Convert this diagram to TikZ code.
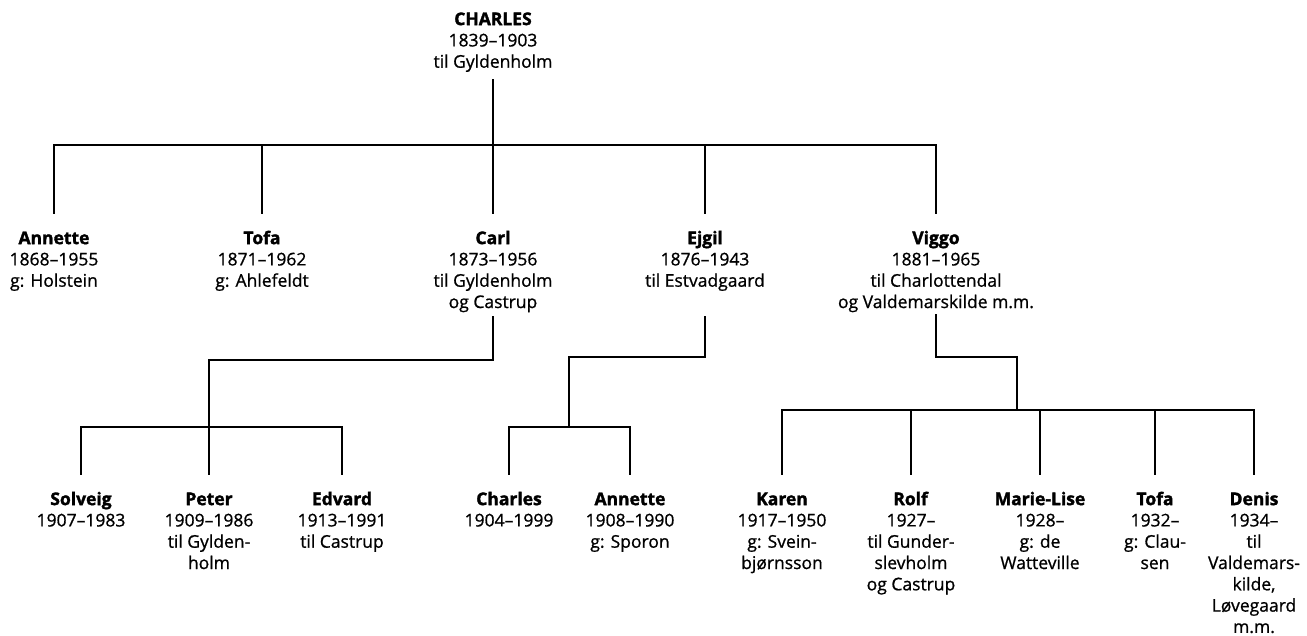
\documentclass[tikz,border=0pt]{standalone}
\usepackage{fontspec}
\setmainfont{Open Sans}[UprightFeatures={FakeBold=0.9}, BoldFeatures={FakeBold=1.8}]
\begin{document}
\begin{tikzpicture}[x=1pt,y=-1pt,
  person/.style={align=center, anchor=north, inner sep=0pt, font=\fontsize{17.5}{21.3}\selectfont},
  link/.style={line width=1.5pt, line cap=rect},
  drop/.style={link, shorten >=16pt}]
\useasboundingbox (0,0) rectangle (1307,635);
% generation 1
\node[person] (charles) at (493,10) {\strut\textbf{CHARLES}\\1839–1903\\til Gyldenholm};
% generation 2
\node[person] (annette) at (54,229) {\strut\textbf{Annette}\\1868–1955\\g: Holstein};
\node[person] (tofa) at (262,229) {\strut\textbf{Tofa}\\1871–1962\\g: Ahlefeldt};
\node[person] (carl) at (493,229) {\strut\textbf{Carl}\\1873–1956\\til Gyldenholm\\og Castrup};
\node[person] (ejgil) at (705,229) {\strut\textbf{Ejgil}\\1876–1943\\til Estvadgaard};
\node[person] (viggo) at (936,229) {\strut\textbf{Viggo}\\1881–1965\\til Charlottendal\\og Valdemarskilde m.m.};
% generation 3
\node[person] (solveig) at (81,490) {\strut\textbf{Solveig}\\1907–1983};
\node[person] (peter) at (209,490) {\strut\textbf{Peter}\\1909–1986\\til Gylden-\\holm};
\node[person] (edvard) at (342,490) {\strut\textbf{Edvard}\\1913–1991\\til Castrup};
\node[person] (charles2) at (509,490) {\strut\textbf{Charles}\\1904–1999};
\node[person] (annette2) at (630,490) {\strut\textbf{Annette}\\1908–1990\\g: Sporon};
\node[person] (karen) at (782,490) {\strut\textbf{Karen}\\1917–1950\\g: Svein-\\bjørnsson};
\node[person] (rolf) at (911,490) {\strut\textbf{Rolf}\\1927–\\til Gunder-\\slevholm\\og Castrup};
\node[person] (marielise) at (1040,490) {\strut\textbf{Marie-Lise}\\1928–\\g: de\\Watteville};
\node[person] (tofa2) at (1155,490) {\strut\textbf{Tofa}\\1932–\\g: Clau-\\sen};
\node[person] (denis) at (1254,490) {\strut\textbf{Denis}\\1934–\\til\\Valdemars-\\kilde,\\Løvegaard\\m.m.};
% junction coordinates
\coordinate (topbar) at (0,145);
\coordinate (g2bot) at (0,317);
\coordinate (carlj) at (209,360);
\coordinate (ejgilj) at (569,357);
\coordinate (viggoj) at (1017,357);
\coordinate (carlbar) at (0,427);
\coordinate (ejgilbar) at (0,427);
\coordinate (viggobar) at (0,410);
% generation 1 -> 2
\draw[link] (charles.south |- 0,80) -- (charles |- topbar);
\draw[link] (annette |- topbar) -- (viggo |- topbar);
\foreach \c in {annette,tofa,carl,ejgil,viggo}
  \draw[drop] (\c |- topbar) -- (\c.north);
% Carl's children
\draw[link] (carl |- g2bot) |- (carlj) -- (carlj |- carlbar);
\draw[link] (solveig |- carlbar) -- (edvard |- carlbar);
\foreach \c in {solveig,peter,edvard}
  \draw[drop] (\c |- carlbar) -- (\c.north);
% Ejgil's children
\draw[link] (ejgil |- g2bot) |- (ejgilj) -- (ejgilj |- ejgilbar);
\draw[link] (charles2 |- ejgilbar) -- (annette2 |- ejgilbar);
\foreach \c in {charles2,annette2}
  \draw[drop] (\c |- ejgilbar) -- (\c.north);
% Viggo's children
\draw[link] (viggo |- 0,315) |- (viggoj) -- (viggoj |- viggobar);
\draw[link] (karen |- viggobar) -- (denis |- viggobar);
\foreach \c in {karen,rolf,marielise,tofa2,denis}
  \draw[drop] (\c |- viggobar) -- (\c.north);
\end{tikzpicture}
\end{document}
